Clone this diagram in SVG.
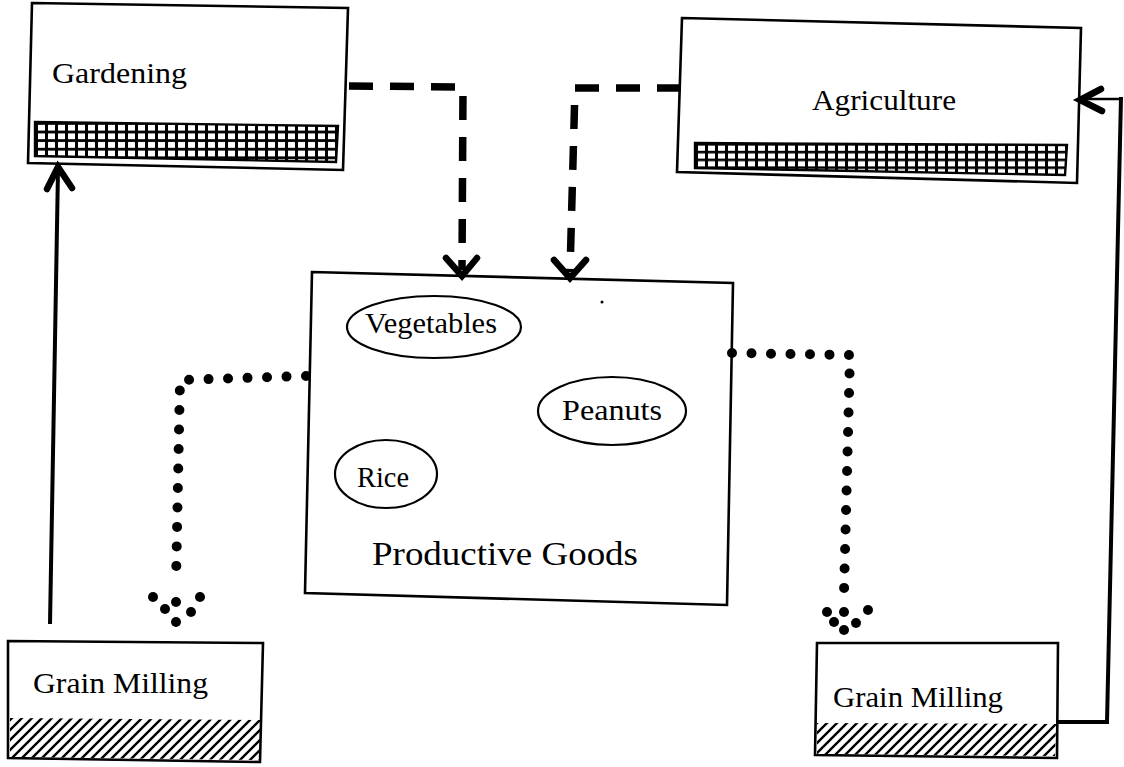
<svg xmlns="http://www.w3.org/2000/svg" width="1124" height="767" viewBox="0 0 1124 767">
<defs>
<pattern id="grid" patternUnits="userSpaceOnUse" width="10" height="8.6" x="35" y="122">
<rect width="10" height="8.6" fill="#000"/>
<rect x="3" y="2.8" width="7" height="5.8" fill="#fff"/>
</pattern>
<pattern id="grid2" patternUnits="userSpaceOnUse" width="10" height="7.8" x="695" y="143">
<rect width="10" height="7.8" fill="#000"/>
<rect x="3" y="2.6" width="7" height="5.2" fill="#fff"/>
</pattern>
<pattern id="diag" patternUnits="userSpaceOnUse" width="10" height="10">
<path d="M-2,2 L2,-2 M0,10 L10,0 M8,12 L12,8" stroke="#000" stroke-width="2.4"/>
</pattern>
</defs>
<style>
.box{fill:#fff;stroke:#000;stroke-width:2.6;stroke-linejoin:miter}
.band{stroke:#000;stroke-width:2.4}
.lbl{font-family:"Liberation Serif","Times New Roman",serif;font-size:30px;fill:#000}
.big{font-size:33px}
.oval{fill:none;stroke:#000;stroke-width:2.2}
.dash{fill:none;stroke:#000;stroke-width:7.5;stroke-dasharray:24 17}
.dots{fill:none;stroke:#000;stroke-width:10;stroke-linecap:round;stroke-dasharray:0 19.5}
.solid{fill:none;stroke:#000;stroke-width:4}
.chev{fill:none;stroke:#000;stroke-width:6.5;stroke-linecap:round;stroke-linejoin:miter}
.dot{fill:#000}
</style>
<rect width="1124" height="767" fill="#fff"/>

<g id="gardening">
<polygon class="box" points="32,3 348,8 343,170 28,163"/>
<polygon class="band" fill="url(#grid)" points="35,122 338,126 336,162 35,156"/>
<text class="lbl" x="52" y="83" textLength="135" lengthAdjust="spacingAndGlyphs">Gardening</text>
</g>

<g id="agriculture">
<polygon class="box" points="682,18 1081,28 1077,183 677,172"/>
<polygon class="band" fill="url(#grid2)" points="695,143 1067,145 1065,175 695,168"/>
<text class="lbl" x="812" y="110" textLength="144" lengthAdjust="spacingAndGlyphs">Agriculture</text>
</g>

<g id="productive-goods">
<polygon class="box" points="312,272 733,283 727,605 305,593"/>
<text class="lbl big" x="372" y="565" textLength="266" lengthAdjust="spacingAndGlyphs">Productive Goods</text>
<circle class="dot" cx="602" cy="302" r="1.5"/>
</g>

<g id="vegetables">
<ellipse class="oval" cx="434" cy="327" rx="87" ry="31"/>
<text class="lbl" x="365" y="333" textLength="132" lengthAdjust="spacingAndGlyphs">Vegetables</text>
</g>

<g id="peanuts">
<ellipse class="oval" cx="612" cy="411" rx="74" ry="34"/>
<text class="lbl" x="562" y="420" textLength="100" lengthAdjust="spacingAndGlyphs">Peanuts</text>
</g>

<g id="rice">
<ellipse class="oval" cx="386" cy="474" rx="51" ry="34"/>
<text class="lbl" x="357" y="487" textLength="52" lengthAdjust="spacingAndGlyphs">Rice</text>
</g>

<g id="grain-milling-left">
<polygon class="box" points="8,641 263,643 260,762 8,758"/>
<polygon fill="url(#diag)" points="10,718 261,720 259,760 10,757"/>
<text class="lbl" x="33" y="693" textLength="175" lengthAdjust="spacingAndGlyphs">Grain Milling</text>
</g>

<g id="grain-milling-right">
<polygon class="box" points="817,643 1058,643 1057,758 815,755"/>
<polygon fill="url(#diag)" points="817,723 1056,724 1055,756 817,754"/>
<text class="lbl" x="833" y="707" textLength="170" lengthAdjust="spacingAndGlyphs">Grain Milling</text>
</g>

<g id="connectors">
<path class="dash" d="M349,86 L463,87 L462,270"/>
<path class="chev" d="M446,258 L462,276 L477,258"/>
<path class="dash" d="M681,88 L575,88 L570,272"/>
<path class="chev" d="M554,260 L570,278 L586,260"/>

<path class="solid" d="M50,624 L58,170"/>
<path class="chev" d="M47,189 L58,167 L72,188"/>

<path class="solid" style="stroke-width:2.6" d="M1080,99 L1121,99"/>
<path class="solid" d="M1121,97 L1107,722 L1058,722"/>
<path class="chev" d="M1101,89 L1080,100 L1102,111"/>

<path class="dots" d="M306,376 L180,380 L176,582"/>
<circle class="dot" cx="153" cy="597" r="5"/>
<circle class="dot" cx="165" cy="609" r="5"/>
<circle class="dot" cx="176" cy="602" r="5"/>
<circle class="dot" cx="176" cy="622" r="5"/>
<circle class="dot" cx="191" cy="612" r="5"/>
<circle class="dot" cx="200" cy="597" r="5"/>

<path class="dots" d="M732,353 L850,355 L844,592"/>
<circle class="dot" cx="827" cy="612" r="5"/>
<circle class="dot" cx="834" cy="622" r="5"/>
<circle class="dot" cx="844" cy="630" r="5"/>
<circle class="dot" cx="844" cy="612" r="5"/>
<circle class="dot" cx="856" cy="623" r="5"/>
<circle class="dot" cx="868" cy="610" r="5"/>
</g>
</svg>
